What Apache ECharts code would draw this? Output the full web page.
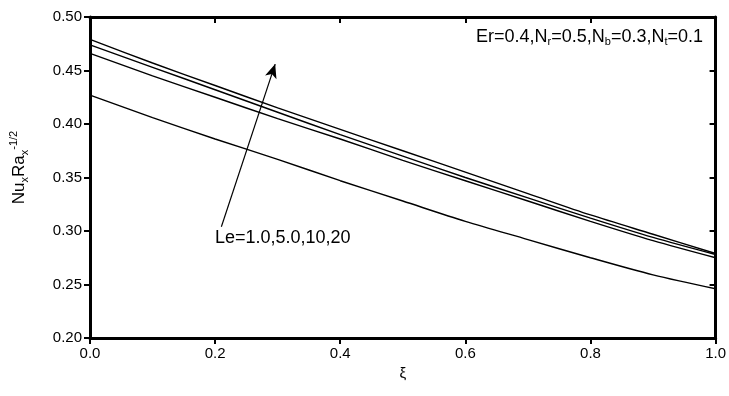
<!DOCTYPE html>
<html><head><meta charset="utf-8">
<script src="https://cdn.jsdelivr.net/npm/echarts@6/dist/echarts.min.js"></script>
<style>html,body{margin:0;padding:0;background:#fff}#c{width:729px;height:396px}</style>
</head><body><div id="c"></div>
<script>
const xi = [0, 0.1, 0.2, 0.3, 0.4, 0.5, 0.6, 0.7, 0.8, 0.9, 1.0];
const le20 = [0.479, 0.457, 0.436, 0.415, 0.395, 0.375, 0.355, 0.335, 0.315, 0.297, 0.279];
const le10 = [0.474, 0.453, 0.432, 0.411, 0.390, 0.370, 0.350, 0.331, 0.312, 0.294, 0.278];
const le5  = [0.466, 0.445, 0.425, 0.405, 0.386, 0.366, 0.347, 0.328, 0.309, 0.291, 0.275];
const le1  = [0.427, 0.406, 0.386, 0.367, 0.347, 0.328, 0.309, 0.292, 0.275, 0.259, 0.246];
const arrowFrom = [0.21, 0.304];
const arrowTo = [0.296, 0.456];

const FONT = 'Liberation Sans, Arial, sans-serif';
const chart = echarts.init(document.getElementById('c'));
const mk = (arr) => xi.map((x, i) => [x, arr[i]]);
const lineStyle = {color: '#000', width: 1.4};
const axisLine = {show: true, onZero: false, lineStyle: {color: '#000', width: 3}};
chart.setOption({
  animation: false,
  grid: {left: 90, right: 11, top: 17, bottom: 58},
  xAxis: [{
    type: 'value', min: 0, max: 1, interval: 0.2,
    axisLine: axisLine,
    axisTick: {show: true, length: 6, lineStyle: {color: '#000', width: 2}},
    axisLabel: {color: '#000', fontFamily: FONT, fontSize: 15, margin: 8, formatter: v => v.toFixed(1)},
    splitLine: {show: false},
    name: 'ξ', nameLocation: 'middle', nameGap: 27,
    nameTextStyle: {color: '#000', fontFamily: FONT, fontSize: 15}
  }, {
    type: 'value', min: 0, max: 1, interval: 0.2, position: 'top',
    axisLine: axisLine,
    axisTick: {show: true, inside: true, length: 6, lineStyle: {color: '#000', width: 2}},
    axisLabel: {show: false}, splitLine: {show: false}
  }],
  yAxis: [{
    type: 'value', min: 0.2, max: 0.5, interval: 0.05,
    axisLine: axisLine,
    axisTick: {show: true, length: 6, lineStyle: {color: '#000', width: 2}},
    axisLabel: {color: '#000', fontFamily: FONT, fontSize: 15, margin: 8, formatter: v => v.toFixed(2)},
    splitLine: {show: false},
    name: 'Nu{s|x}Ra{s|x}{p|-1/2}', nameLocation: 'middle', nameGap: 60, nameRotate: 90,
    nameTextStyle: {color: '#000', fontFamily: FONT, fontSize: 17, padding: [0, 0, 0, 20],
      rich: {
        s: {fontFamily: FONT, fontSize: 11, color: '#000', padding: [11, 0, 0, 0]},
        p: {fontFamily: FONT, fontSize: 11, color: '#000', padding: [0, 0, 11, 0]}
      }}
  }, {
    type: 'value', min: 0.2, max: 0.5, interval: 0.05, position: 'right',
    axisLine: axisLine,
    axisTick: {show: true, inside: true, length: 6, lineStyle: {color: '#000', width: 2}},
    axisLabel: {show: false}, splitLine: {show: false}
  }],
  series: [
    {type: 'line', name: 'Le=20', data: mk(le20), showSymbol: false, smooth: 0.3, lineStyle, itemStyle: {color: '#000'},
     markLine: {silent: true, symbol: ['none', 'arrow'], symbolSize: [9, 14], label: {show: false},
       lineStyle: {color: '#000', width: 1.2, type: 'solid'},
       data: [[{coord: arrowFrom}, {coord: arrowTo}]]}},
    {type: 'line', name: 'Le=10', data: mk(le10), showSymbol: false, smooth: 0.3, lineStyle, itemStyle: {color: '#000'}},
    {type: 'line', name: 'Le=5.0', data: mk(le5), showSymbol: false, smooth: 0.3, lineStyle, itemStyle: {color: '#000'}},
    {type: 'line', name: 'Le=1.0', data: mk(le1), showSymbol: false, smooth: 0.3, lineStyle, itemStyle: {color: '#000'}}
  ],
  graphic: [{
    type: 'text', right: 26, top: 28,
    style: {text: 'Er=0.4,N{s|r}=0.5,N{s|b}=0.3,N{s|t}=0.1', fill: '#000', font: '18px ' + FONT,
      rich: {s: {fontSize: 11, fontFamily: FONT, fill: '#000', padding: [9, 0, 0, 0]}}}
  }, {
    type: 'text', left: 215, top: 229,
    style: {text: 'Le=1.0,5.0,10,20', fill: '#000', font: '18px ' + FONT}
  }]
});
</script></body></html>
